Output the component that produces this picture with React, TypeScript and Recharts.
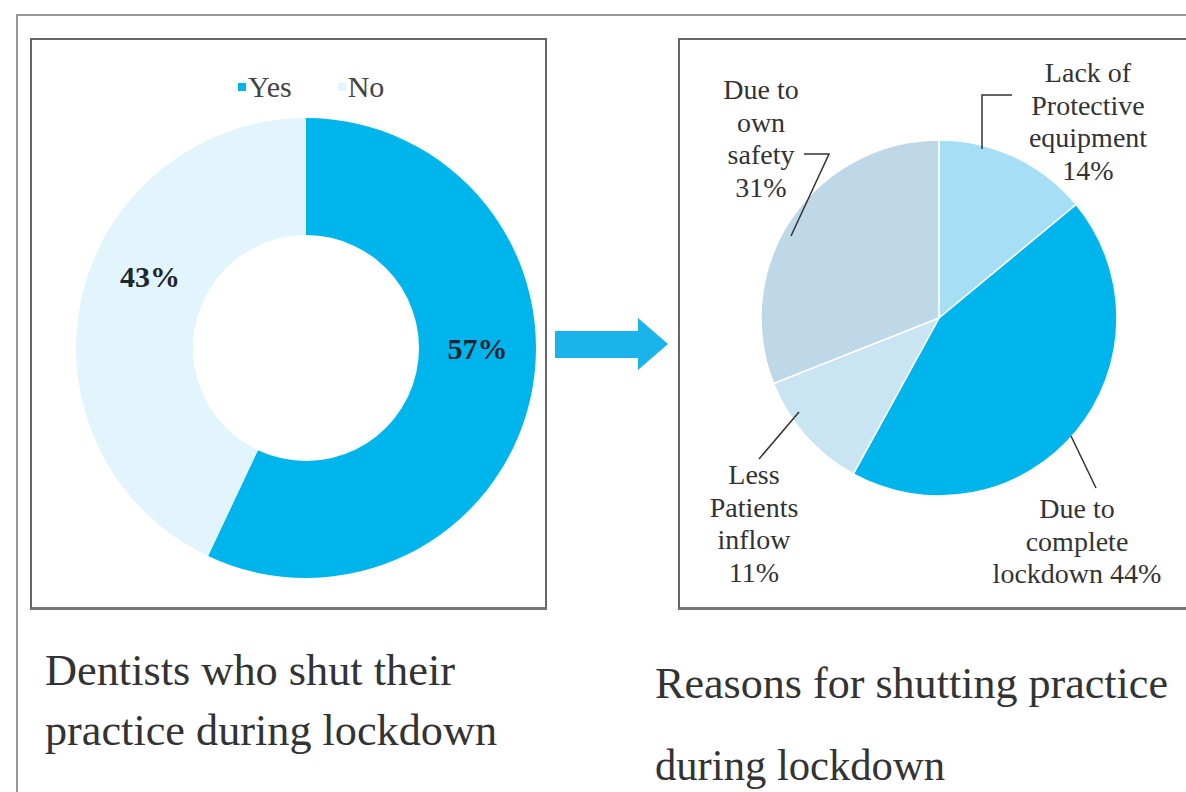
import { PieChart, Pie, Cell, Legend } from 'recharts'

// Left donut: did the dentist shut the practice
const SHUT_CATEGORIES = ['Yes', 'No']
const SHUT_VALUES = [57, 43]

// Right pie: reasons for shutting
const REASON_CATEGORIES = [
  'Lack of Protective equipment',
  'Due to complete lockdown',
  'Less Patients inflow',
  'Due to own safety',
]
const REASON_VALUES = [14, 44, 11, 31]
const REASON_LABELS = [
  ['Lack of', 'Protective', 'equipment', '14%'],
  ['Due to', 'complete', 'lockdown 44%'],
  ['Less', 'Patients', 'inflow', '11%'],
  ['Due to', 'own', 'safety', '31%'],
]

const SHUT_COLORS = ['#00b5ec', '#e2f5fd']
const REASON_COLORS = ['#a6def6', '#00b5ec', '#c9e5f2', '#bfd8e7']

const SERIF = '"Liberation Serif", "DejaVu Serif", serif'
const RAD = Math.PI / 180

// label layout (offsets from the pie centre), one entry per reason
const REASON_LAYOUT = [
  { tx: 149, ty: -236, leader: [[43, -169], [43, -223], [73, -223]] },
  { tx: 138, ty: 200, leader: [[132, 118], [157, 170]] },
  { tx: -185, ty: 166, leader: [[-140, 94], [-180, 141]] },
  { tx: -178, ty: -219, leader: [[-148, -82], [-110, -164], [-135, -164]] },
]
// small angular nudge of the donut percentages
const SHUT_LABEL_SHIFT = [12.6, -12]

const shutData = SHUT_CATEGORIES.map((name, i) => ({ name, value: SHUT_VALUES[i] }))
const reasonData = REASON_CATEGORIES.map((name, i) => ({ name, value: REASON_VALUES[i] }))

function renderShutLabel(props: any) {
  const { cx, cy, midAngle, innerRadius, outerRadius, percent, index } = props
  const r = (innerRadius + outerRadius) / 2
  const a = (midAngle + SHUT_LABEL_SHIFT[index]) * RAD
  const x = cx + r * Math.cos(-a)
  const y = cy + r * Math.sin(-a)
  return (
    <text
      x={x}
      y={y}
      textAnchor="middle"
      dominantBaseline="central"
      fontFamily={SERIF}
      fontWeight="bold"
      fontSize={30}
      fill="#1c2530"
    >
      {`${Math.round(percent * 100)}%`}
    </text>
  )
}

function renderReasonLabel(props: any) {
  const { cx, cy, index } = props
  const layout = REASON_LAYOUT[index]
  const lines = REASON_LABELS[index]
  const pts = layout.leader.map(([dx, dy]) => `${cx + dx},${cy + dy}`).join(' ')
  return (
    <g>
      <polyline points={pts} fill="none" stroke="#333" strokeWidth={1.5} />
      <text
        x={cx + layout.tx}
        y={cy + layout.ty}
        textAnchor="middle"
        fontFamily={SERIF}
        fontSize={28}
        fill="#333"
      >
        {lines.map((line, i) => (
          <tspan key={i} x={cx + layout.tx} dy={i === 0 ? 0 : 32.5}>
            {line}
          </tspan>
        ))}
      </text>
    </g>
  )
}

function ShutLegend({ payload }: any) {
  const items = [...(payload ?? [])].sort(
    (a: any, b: any) => SHUT_CATEGORIES.indexOf(a.value) - SHUT_CATEGORIES.indexOf(b.value),
  )
  return (
    <div
      style={{
        display: 'flex',
        height: 34,
        alignItems: 'center',
        gap: 46,
        paddingLeft: 206,
        fontFamily: SERIF,
        fontSize: 30,
        color: '#444',
      }}
    >
      {items.map((entry: any) => (
        <span key={entry.value} style={{ display: 'inline-flex', alignItems: 'center' }}>
          <span
            style={{
              display: 'inline-block',
              width: 8,
              height: 8,
              marginRight: 2,
              background: entry.color,
            }}
          />
          {entry.value}
        </span>
      ))}
    </div>
  )
}

const boxStyle = {
  position: 'absolute' as const,
  border: '2px solid #666',
  borderBottom: '3px solid #777',
  background: '#fff',
}

export default function App() {
  return (
    <div
      style={{
        position: 'absolute',
        left: 0,
        top: 0,
        width: 1186,
        height: 792,
        overflow: 'hidden',
        background: '#fff',
      }}
    >
      <div
        style={{
          position: 'absolute',
          left: 16,
          top: 14,
          width: 1200,
          height: 800,
          borderTop: '2px solid #999',
          borderLeft: '2px solid #999',
        }}
      />

      <div style={{ ...boxStyle, left: 30, top: 38, width: 513, height: 567 }}>
        <PieChart width={513} height={567}>
          <Legend
            verticalAlign="top"
            wrapperStyle={{ top: 30, left: 0, width: 513 }}
            content={<ShutLegend />}
          />
          <Pie
            data={shutData}
            dataKey="value"
            nameKey="name"
            cx={269}
            cy={269}
            innerRadius={113}
            outerRadius={230}
            startAngle={90}
            endAngle={-270}
            stroke="none"
            label={renderShutLabel}
            labelLine={false}
            isAnimationActive={false}
          >
            {shutData.map((d, i) => (
              <Cell key={d.name} fill={SHUT_COLORS[i]} />
            ))}
          </Pie>
        </PieChart>
      </div>

      <div style={{ ...boxStyle, left: 678, top: 38, width: 540, height: 567 }}>
        <PieChart width={540} height={567}>
          <Pie
            data={reasonData}
            dataKey="value"
            nameKey="name"
            cx={254}
            cy={273}
            outerRadius={178}
            startAngle={90}
            endAngle={-270}
            stroke="#ffffff"
            strokeWidth={1.5}
            label={renderReasonLabel}
            labelLine={false}
            isAnimationActive={false}
          >
            {reasonData.map((d, i) => (
              <Cell key={d.name} fill={REASON_COLORS[i]} />
            ))}
          </Pie>
        </PieChart>
      </div>

      <svg
        width={1186}
        height={792}
        style={{ position: 'absolute', left: 0, top: 0, pointerEvents: 'none' }}
      >
        <rect x={555} y={331} width={86} height={27} fill="#1ab4ea" />
        <polygon points="638,318 668,344 638,370" fill="#1ab4ea" />

        <g fontFamily={SERIF} fontSize={44} fill="#333">
          <text x={45} y={685} textLength={410} lengthAdjust="spacingAndGlyphs">
            Dentists who shut their
          </text>
          <text x={45} y={745} textLength={452} lengthAdjust="spacingAndGlyphs">
            practice during lockdown
          </text>
          <text x={655} y={698} textLength={513} lengthAdjust="spacingAndGlyphs">
            Reasons for shutting practice
          </text>
          <text x={655} y={780} textLength={290} lengthAdjust="spacingAndGlyphs">
            during lockdown
          </text>
        </g>
      </svg>
    </div>
  )
}
